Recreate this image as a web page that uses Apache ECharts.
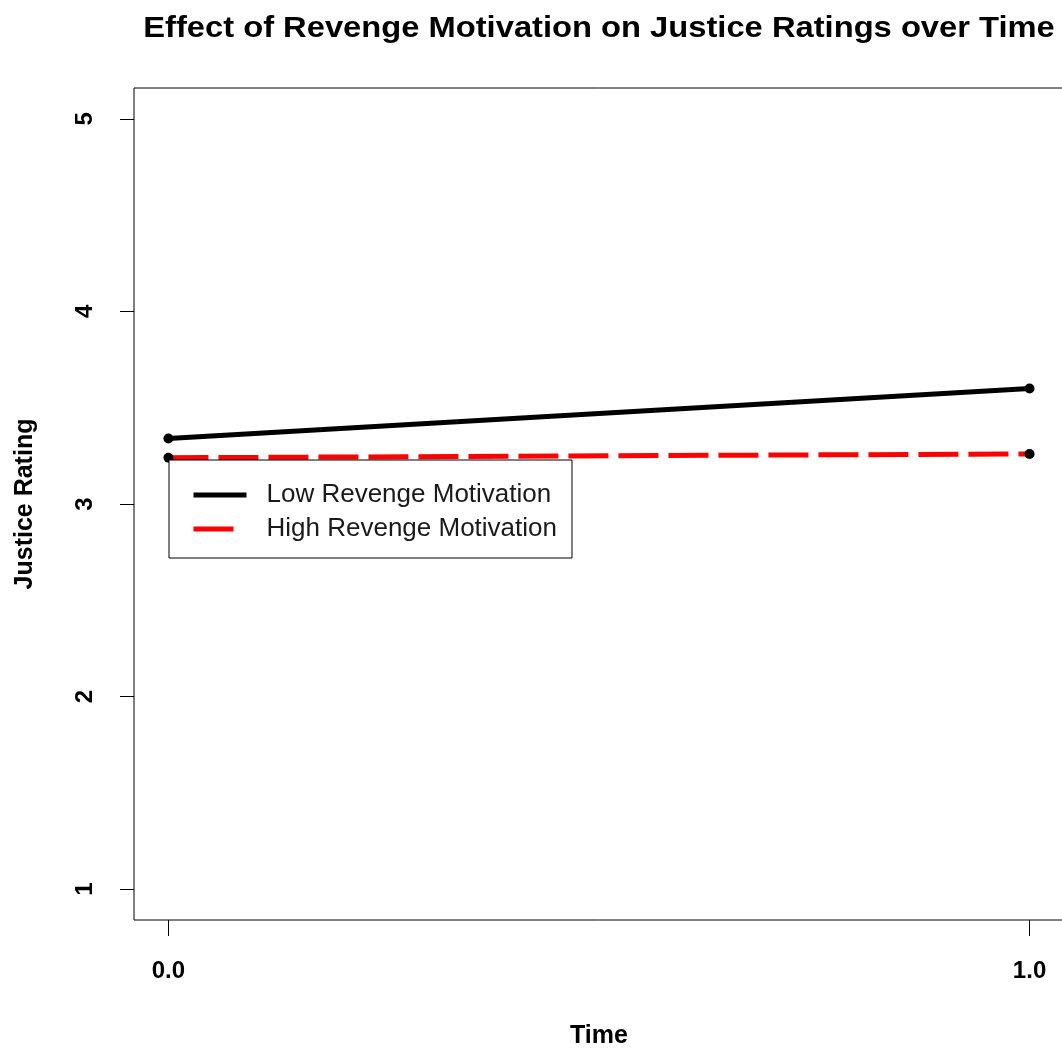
<!DOCTYPE html>
<html>
<head>
<meta charset="utf-8">
<title>Effect of Revenge Motivation on Justice Ratings over Time</title>
<script src="https://cdn.jsdelivr.net/npm/echarts@6/dist/echarts.min.js"></script>
<style>
  html, body { margin: 0; padding: 0; background: #ffffff; }
  #chart { width: 1062px; height: 1053px; }
</style>
</head>
<body>
<div id="chart"></div>
<script>
// Time points (x) and mean justice ratings per revenge-motivation group
const timePoints = [0, 1];
const lowRevenge = [3.34, 3.60];
const highRevenge = [3.24, 3.26];
const seriesNames = ['Low Revenge Motivation', 'High Revenge Motivation'];
const xTicks = [0, 1];
const yTicks = [1, 2, 3, 4, 5];

const titleText = 'Effect of Revenge Motivation on Justice Ratings over Time';
const FONT = '"Liberation Sans", Arial, Helvetica, sans-serif';

function pairs(xs, ys) {
  return xs.map((x, i) => [x, ys[i]]);
}

const chart = echarts.init(document.getElementById('chart'), null, { renderer: 'canvas' });

const gridLeft = 134, gridRight = -2, gridTop = 88, gridBottom = 133;
const plotCenterX = (gridLeft + (1062 - gridRight)) / 2;

chart.setOption({
  animation: false,
  backgroundColor: '#ffffff',
  graphic: [{
    type: 'text',
    x: plotCenterX,
    y: 29,
    scaleX: 1.09,
    style: {
      text: titleText,
      textAlign: 'center',
      textVerticalAlign: 'middle',
      font: 'bold 30px ' + FONT,
      fill: '#000'
    }
  }],
  grid: {
    left: gridLeft, right: gridRight, top: gridTop, bottom: gridBottom,
    outerBoundsMode: 'none',
    containLabel: false,
    show: true, borderColor: '#000', borderWidth: 1, backgroundColor: 'transparent'
  },
  legend: {
    left: 169, top: 460,
    orient: 'vertical',
    selectedMode: false,
    padding: [22, 15, 16, 22],
    itemGap: 8,
    itemWidth: 53,
    itemHeight: 24,
    borderColor: '#000',
    borderWidth: 1,
    backgroundColor: '#fff',
    lineStyle: { width: 5 },
    textStyle: {
      fontFamily: FONT, fontSize: 26, color: '#1a1a1a',
      padding: [0, 0, 0, 15], width: 289, lineHeight: 24
    },
    data: [
      { name: seriesNames[0], itemStyle: { opacity: 0 } },
      // a single dash followed by its gap fills the 53px sample
      { name: seriesNames[1], itemStyle: { opacity: 0 }, lineStyle: { width: 5, type: [40, 13] } }
    ]
  },
  xAxis: {
    type: 'value',
    min: -0.04, max: 1.04,
    name: 'Time',
    nameLocation: 'middle',
    nameGap: 104,
    nameTextStyle: { fontFamily: FONT, fontSize: 25, fontWeight: 'bold', color: '#000' },
    axisLine: { show: false, onZero: false },
    splitLine: { show: false },
    axisTick: { show: true, length: 16, customValues: xTicks, lineStyle: { color: '#000', width: 1 } },
    axisLabel: {
      customValues: xTicks, margin: 39,
      formatter: v => v.toFixed(1),
      fontFamily: FONT, fontSize: 24, fontWeight: 'bold', color: '#000'
    }
  },
  yAxis: {
    type: 'value',
    min: 0.84, max: 5.16,
    name: 'Justice Rating',
    nameLocation: 'middle',
    nameGap: 96,
    nameTextStyle: { fontFamily: FONT, fontSize: 25, fontWeight: 'bold', color: '#000' },
    axisLine: { show: false, onZero: false },
    splitLine: { show: false },
    axisTick: { show: true, length: 14, customValues: yTicks, lineStyle: { color: '#000', width: 1 } },
    axisLabel: {
      customValues: yTicks, margin: 37, rotate: 90,
      formatter: v => String(v),
      fontFamily: FONT, fontSize: 24, fontWeight: 'bold', color: '#000'
    }
  },
  series: [
    {
      name: seriesNames[0],
      type: 'line',
      data: pairs(timePoints, lowRevenge),
      symbol: 'circle',
      symbolSize: 10,
      itemStyle: { color: '#000' },
      lineStyle: { color: '#000', width: 5, type: 'solid' },
      emphasis: { disabled: true }
    },
    {
      name: seriesNames[1],
      type: 'line',
      data: pairs(timePoints, highRevenge),
      symbol: 'circle',
      symbolSize: 10,
      itemStyle: { color: '#000' },
      lineStyle: { color: '#ff0000', width: 5, type: [40, 10] },
      emphasis: { disabled: true }
    }
  ]
});
</script>
</body>
</html>
